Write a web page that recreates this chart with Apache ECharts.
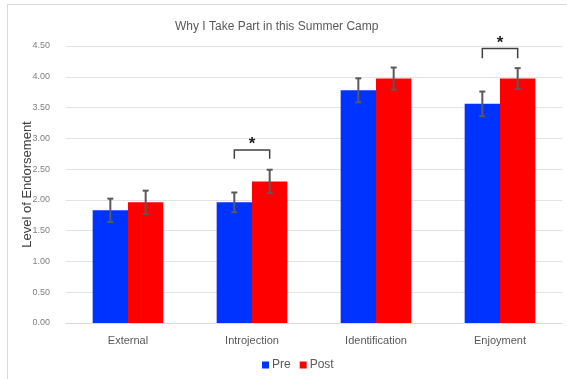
<!DOCTYPE html>
<html>
<head>
<meta charset="utf-8">
<script src="https://cdn.jsdelivr.net/npm/echarts@6/dist/echarts.min.js"></script>
<style>
  html, body { margin: 0; padding: 0; background: #fff; }
  #chart { width: 567px; height: 379px; }
</style>
</head>
<body>
<div id="chart"></div>
<script>
const categories = ['External', 'Introjection', 'Identification', 'Enjoyment']
const preMean = [1.83, 1.96, 3.78, 3.56]
const postMean = [1.96, 2.30, 3.97, 3.97]
const preErr = [0.19, 0.16, 0.195, 0.20]
const postErr = [0.19, 0.19, 0.18, 0.17]
const yTicks = [0, 0.5, 1, 1.5, 2, 2.5, 3, 3.5, 4, 4.5]

// significance brackets: category, bracket top, bottom of legs
const sigCategories = ['Introjection', 'Enjoyment']
const sigTop = [2.81, 4.46]
const sigLeg = [2.67, 4.30]

const FONT = 'Liberation Sans'
const CAT_GAP = 0.43

function barCenter(api, catIndex, side) {
  const x = api.coord([catIndex, 0])[0]
  const band = api.size([1, 0])[0]
  const barW = band * (1 - CAT_GAP) / 2
  return x + (side === 0 ? -barW / 2 : barW / 2)
}

function renderError(params, api) {
  const idx = api.value(0)
  const mean = api.value(1)
  const err = api.value(2)
  const side = api.value(3)
  const cx = barCenter(api, idx, side)
  const yTop = api.coord([idx, mean + err])[1]
  const yBot = api.coord([idx, mean - err])[1]
  const style = { stroke: '#595959', lineWidth: 2 }
  return {
    type: 'group',
    children: [
      { type: 'line', shape: { x1: cx, y1: yTop, x2: cx, y2: yBot }, style },
      { type: 'line', shape: { x1: cx - 3, y1: yTop, x2: cx + 3, y2: yTop }, style },
      { type: 'line', shape: { x1: cx - 3, y1: yBot, x2: cx + 3, y2: yBot }, style }
    ]
  }
}

function renderBracket(params, api) {
  const idx = api.value(0)
  const top = api.value(1)
  const leg = api.value(2)
  const x1 = barCenter(api, idx, 0)
  const x2 = barCenter(api, idx, 1)
  const yT = api.coord([idx, top])[1]
  const yL = api.coord([idx, leg])[1]
  return {
    type: 'group',
    children: [
      {
        type: 'polyline',
        shape: { points: [[x1, yL], [x1, yT], [x2, yT], [x2, yL]] },
        style: { stroke: '#404040', lineWidth: 1.5, fill: null }
      },
      {
        type: 'text',
        style: {
          x: (x1 + x2) / 2, y: yT + 3, text: '*',
          font: 'bold 17px ' + FONT, fill: '#222',
          align: 'center', verticalAlign: 'bottom'
        }
      }
    ]
  }
}

const errData = []
preMean.forEach((v, i) => errData.push([i, v, preErr[i], 0]))
postMean.forEach((v, i) => errData.push([i, v, postErr[i], 1]))
const sigData = sigCategories.map((c, i) => [categories.indexOf(c), sigTop[i], sigLeg[i]])

const chart = echarts.init(document.getElementById('chart'))
chart.setOption({
  animation: false,
  textStyle: { fontFamily: FONT },
  title: {
    text: 'Why I Take Part in this Summer Camp',
    left: 170,
    top: 16,
    textStyle: { fontSize: 12, fontWeight: 'normal', color: '#595959', fontFamily: FONT }
  },
  graphic: [
    { type: 'line', shape: { x1: 7, y1: 4.5, x2: 567, y2: 4.5 }, style: { stroke: '#d9d9d9', lineWidth: 1 } },
    { type: 'line', shape: { x1: 7.5, y1: 4, x2: 7.5, y2: 379 }, style: { stroke: '#d9d9d9', lineWidth: 1 } }
  ],
  legend: {
    data: ['Pre', 'Post'],
    left: 257,
    top: 354,
    itemWidth: 7,
    itemHeight: 7,
    itemGap: 9,
    icon: 'rect',
    textStyle: { fontSize: 12, color: '#595959', padding: [0, 0, 0, -2] }
  },
  grid: { left: 66, right: 5, top: 46, bottom: 56 },
  xAxis: {
    type: 'category',
    data: categories,
    axisTick: { show: false },
    axisLine: { lineStyle: { color: '#d9d9d9' } },
    axisLabel: { color: '#595959', fontSize: 11, margin: 12 }
  },
  yAxis: {
    type: 'value',
    min: yTicks[0],
    max: yTicks[yTicks.length - 1],
    interval: 0.5,
    name: 'Level of Endorsement',
    nameLocation: 'middle',
    nameGap: 32,
    nameMoveOverlap: false,
    nameTextStyle: { fontSize: 13, color: '#404040' },
    axisLabel: { color: '#7f7f7f', fontSize: 9, formatter: (v) => v.toFixed(2), margin: 16 },
    splitLine: { lineStyle: { color: '#e3e3e3', width: 1 } }
  },
  series: [
    {
      name: 'Pre',
      type: 'bar',
      data: preMean,
      barGap: '0%',
      barCategoryGap: CAT_GAP * 100 + '%',
      itemStyle: { color: '#0033ff' }
    },
    {
      name: 'Post',
      type: 'bar',
      data: postMean,
      itemStyle: { color: '#ff0000' }
    },
    {
      type: 'custom',
      renderItem: renderError,
      data: errData,
      encode: { x: 0, y: 1 },
      z: 5
    },
    {
      type: 'custom',
      renderItem: renderBracket,
      data: sigData,
      encode: { x: 0, y: 1 },
      z: 5
    }
  ]
})
</script>
</body>
</html>
